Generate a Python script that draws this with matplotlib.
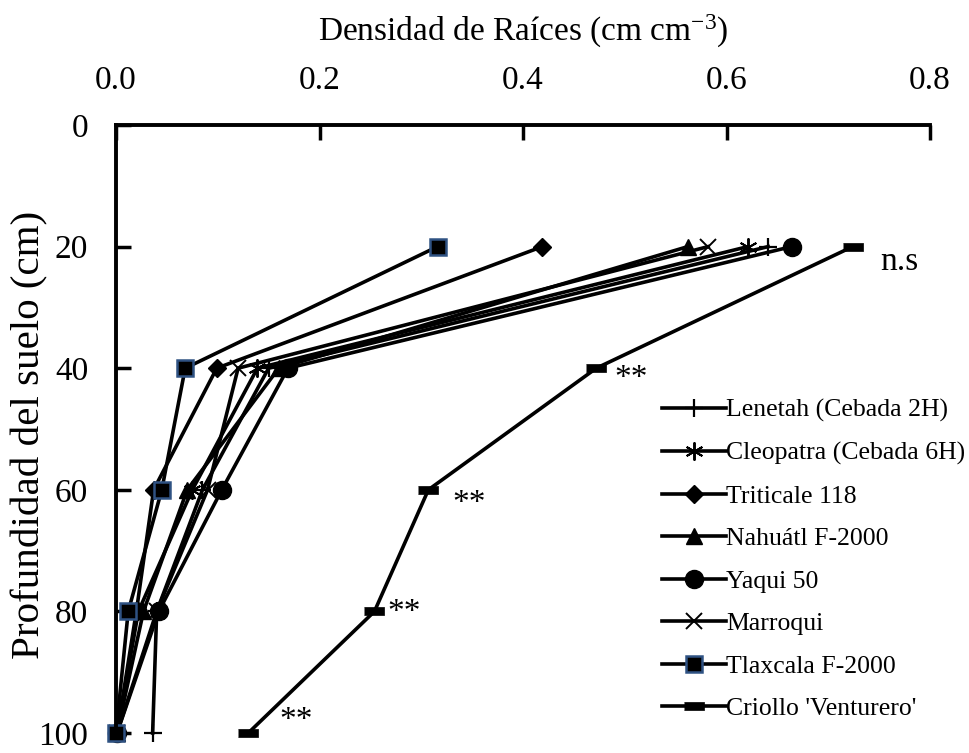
import matplotlib
matplotlib.use("Agg")
import matplotlib.pyplot as plt

plt.rcParams['font.family'] = ['Liberation Serif', 'DejaVu Serif']
plt.rcParams['mathtext.fontset'] = 'custom'
plt.rcParams['mathtext.rm'] = 'Liberation Serif'
plt.rcParams['mathtext.it'] = 'Liberation Serif:italic'

depth = [20, 40, 60, 80, 100]

lenetah    = [0.641, 0.150, 0.085, 0.040, 0.036]
cleopatra  = [0.621, 0.139, 0.075, 0.022, 0.001]
triticale  = [0.419, 0.099, 0.037, 0.020, 0.001]
nahuatl    = [0.562, 0.160, 0.070, 0.027, 0.001]
yaqui      = [0.664, 0.169, 0.104, 0.042, 0.001]
marroqui   = [0.582, 0.120, 0.090, 0.040, 0.001]
tlaxcala   = [0.316, 0.068, 0.045, 0.012, 0.000]
criollo    = [0.724, 0.472, 0.307, 0.254, 0.130]

names = ["Lenetah (Cebada 2H)", "Cleopatra (Cebada 6H)", "Triticale 118",
         "Nahuátl F-2000", "Yaqui 50", "Marroqui", "Tlaxcala F-2000",
         "Criollo 'Venturero'"]

sig_labels = ["n.s", "**", "**", "**", "**"]

x_ticks = [0.0, 0.2, 0.4, 0.6, 0.8]
y_ticks = [0, 20, 40, 60, 80, 100]

dash = [(-1, -0.38), (1, -0.38), (1, 0.38), (-1, 0.38)]

styles = [
    dict(marker='+', ms=13, mew=1.6, mfc='black', mec='black'),
    dict(marker=(6, 2, 0), ms=13, mew=1.4, mfc='black', mec='black'),
    dict(marker='D', ms=9, mew=1, mfc='black', mec='black'),
    dict(marker='^', ms=11, mew=1, mfc='black', mec='black'),
    dict(marker='o', ms=13, mew=1, mfc='black', mec='black'),
    dict(marker='x', ms=11, mew=1.4, mfc='black', mec='black'),
    dict(marker='s', ms=12, mew=1.8, mfc='black', mec='#2F5283'),
    dict(marker=dash, ms=14, mew=0.5, mfc='black', mec='black'),
]

series = [lenetah, cleopatra, triticale, nahuatl, yaqui, marroqui, tlaxcala, criollo]

fig = plt.figure(figsize=(9.69, 7.53), dpi=100)
ax = fig.add_axes([116/969, 1-733/753, (930-116)/969, (733-125)/753])

for vals, name, st in zip(series, names, styles):
    ax.plot(vals, depth, color='black', lw=2.6, label=name, clip_on=False, **st)

ax.set_xlim(0, 0.8)
ax.set_ylim(100, 0)
ax.set_xticks(x_ticks)
ax.set_xticklabels([f"{v:.1f}" for v in x_ticks])
ax.set_yticks(y_ticks)
ax.xaxis.tick_top()
ax.xaxis.set_label_position('top')
ax.tick_params(axis='both', direction='in', length=11, width=2.5, labelsize=24)
ax.tick_params(axis='x', pad=21)
ax.tick_params(axis='y', pad=20)
for s in ['right', 'bottom']:
    ax.spines[s].set_visible(False)
for s in ['top', 'left']:
    ax.spines[s].set_linewidth(2.8)

ax.set_xlabel("Densidad de Raíces (cm cm$^{\\mathregular{-3}}$)", fontsize=24, labelpad=18)
ax.set_ylabel("Profundidad del suelo (cm)", fontsize=29.5)
ax.yaxis.set_label_coords(-0.083, 0.49)

# significance annotations
sig_pos = [(0.751, 22.5), (0.490, 41.8), (0.331, 62.3), (0.267, 80.3), (0.161, 98.0)]
for (xv, yv), lab in zip(sig_pos, sig_labels):
    ax.text(xv, yv, lab, fontsize=24, ha='left', va='center')

leg = ax.legend(loc='upper left', bbox_to_anchor=(662/969, 1-399/753),
                bbox_transform=fig.transFigure, frameon=False, fontsize=18.5,
                handlelength=2.5, handletextpad=0.0, labelspacing=0.76,
                borderaxespad=0, borderpad=0)

fig.savefig("out.png", dpi=100)
